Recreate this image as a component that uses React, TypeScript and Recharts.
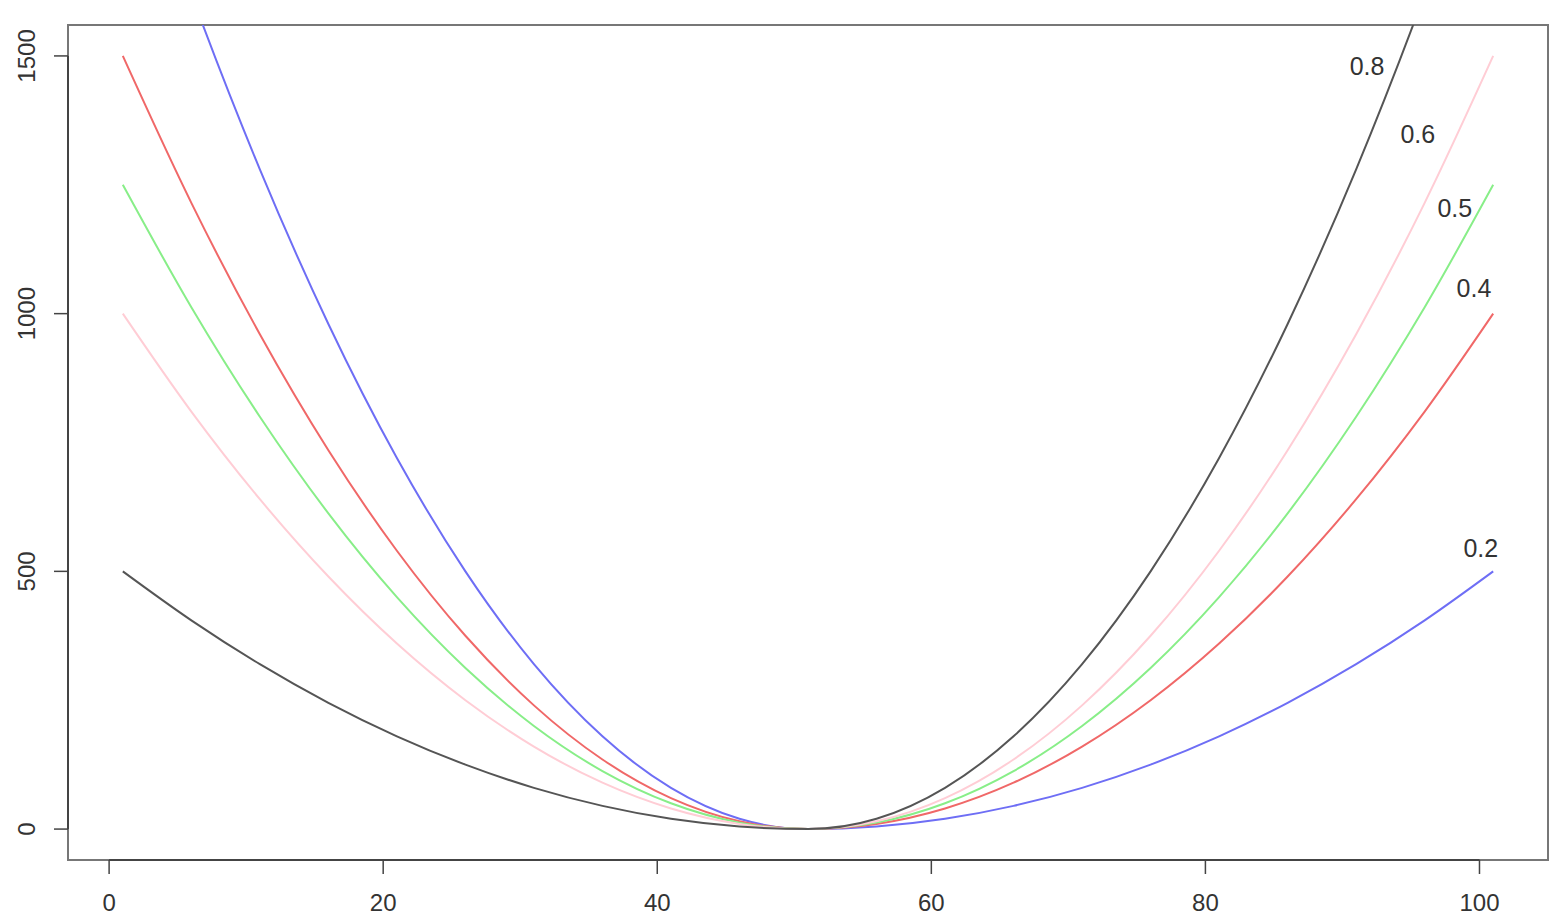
import React from 'react';
import { LineChart, Line, XAxis, YAxis, ReferenceArea, ReferenceLine, ReferenceDot } from 'recharts';

const xs = [1, 6, 11, 16, 21, 26, 31, 36, 41, 46, 51, 56, 61, 66, 71, 76, 81, 86, 91, 96, 101];
const tau08 = [500, 405, 320, 245, 180, 125, 80, 45, 20, 5, 0, 20, 80, 180, 320, 500, 720, 980, 1280, 1620, 2000];
const tau06 = [1000, 810, 640, 490, 360, 250, 160, 90, 40, 10, 0, 15, 60, 135, 240, 375, 540, 735, 960, 1215, 1500];
const tau05 = [1250, 1012.5, 800, 612.5, 450, 312.5, 200, 112.5, 50, 12.5, 0, 12.5, 50, 112.5, 200, 312.5, 450, 612.5, 800, 1012.5, 1250];
const tau04 = [1500, 1215, 960, 735, 540, 375, 240, 135, 60, 15, 0, 10, 40, 90, 160, 250, 360, 490, 640, 810, 1000];
const tau02 = [2000, 1620, 1280, 980, 720, 500, 320, 180, 80, 20, 0, 5, 20, 45, 80, 125, 180, 245, 320, 405, 500];

const xTicks = [0, 20, 40, 60, 80, 100];
const yTicks = [0, 500, 1000, 1500];

const labelText = ['0.8', '0.6', '0.5', '0.4', '0.2'];
const labelX = [91.8, 95.5, 98.2, 99.6, 100.1];
const labelY = [1480, 1348, 1204, 1049, 546];

const data = xs.map((x, i) => ({
  x,
  t08: tau08[i],
  t06: tau06[i],
  t05: tau05[i],
  t04: tau04[i],
  t02: tau02[i],
}));

const FONT = '"Liberation Sans", Arial, Helvetica, sans-serif';

const XTick = (props: any) => {
  const { x, y, payload } = props;
  return (
    <text x={x} y={y + 37} textAnchor="middle" fontSize={24} fill="#333" fontFamily={FONT}>
      {payload.value}
    </text>
  );
};

const YTick = (props: any) => {
  const { x, y, payload } = props;
  const bx = x - 19;
  return (
    <text x={bx} y={y} transform={`rotate(-90, ${bx}, ${y})`} textAnchor="middle" fontSize={24} fill="#333" fontFamily={FONT}>
      {payload.value}
    </text>
  );
};

export default function App() {
  return (
    <div style={{ position: 'absolute', left: 0, top: 0, width: 1566, height: 924, background: '#fff' }}>
      <LineChart width={1566} height={924} data={data} margin={{ top: 25, right: 18, bottom: 0, left: 0 }}>
        <XAxis
          dataKey="x"
          type="number"
          domain={[-3, 105]}
          ticks={xTicks}
          allowDataOverflow
          height={64}
          tickSize={14}
          tickMargin={0}
          axisLine={false}
          tickLine={{ stroke: '#444', strokeWidth: 1.5 }}
          tick={<XTick />}
        />
        <YAxis
          type="number"
          domain={[-60, 1560]}
          ticks={yTicks}
          allowDataOverflow
          width={68}
          tickSize={14}
          tickMargin={0}
          axisLine={false}
          tickLine={{ stroke: '#444', strokeWidth: 1.5 }}
          tick={<YTick />}
        />
        <ReferenceArea x1={-3} x2={105} y1={-60} y2={1560} fill="none" stroke="#777" strokeWidth={2} ifOverflow="visible" />
        <ReferenceLine segment={[{ x: 0, y: -60 }, { x: 100, y: -60 }]} stroke="#444" strokeWidth={2} ifOverflow="visible" />
        <ReferenceLine segment={[{ x: -3, y: 0 }, { x: -3, y: 1500 }]} stroke="#444" strokeWidth={2} ifOverflow="visible" />
        <Line type="monotone" dataKey="t02" stroke="#6e6ef5" strokeWidth={2} dot={false} isAnimationActive={false} />
        <Line type="monotone" dataKey="t04" stroke="#f06868" strokeWidth={2} dot={false} isAnimationActive={false} />
        <Line type="monotone" dataKey="t05" stroke="#88ee88" strokeWidth={2} dot={false} isAnimationActive={false} />
        <Line type="monotone" dataKey="t06" stroke="#ffcdd5" strokeWidth={2} dot={false} isAnimationActive={false} />
        <Line type="monotone" dataKey="t08" stroke="#555555" strokeWidth={2} dot={false} isAnimationActive={false} />
        {labelText.map((t, i) => (
          <ReferenceDot
            key={t}
            x={labelX[i]}
            y={labelY[i]}
            r={0}
            fill="none"
            stroke="none"
            ifOverflow="visible"
            label={{ value: t, position: 'center', fontSize: 25, fill: '#333', fontFamily: FONT }}
          />
        ))}
      </LineChart>
    </div>
  );
}
